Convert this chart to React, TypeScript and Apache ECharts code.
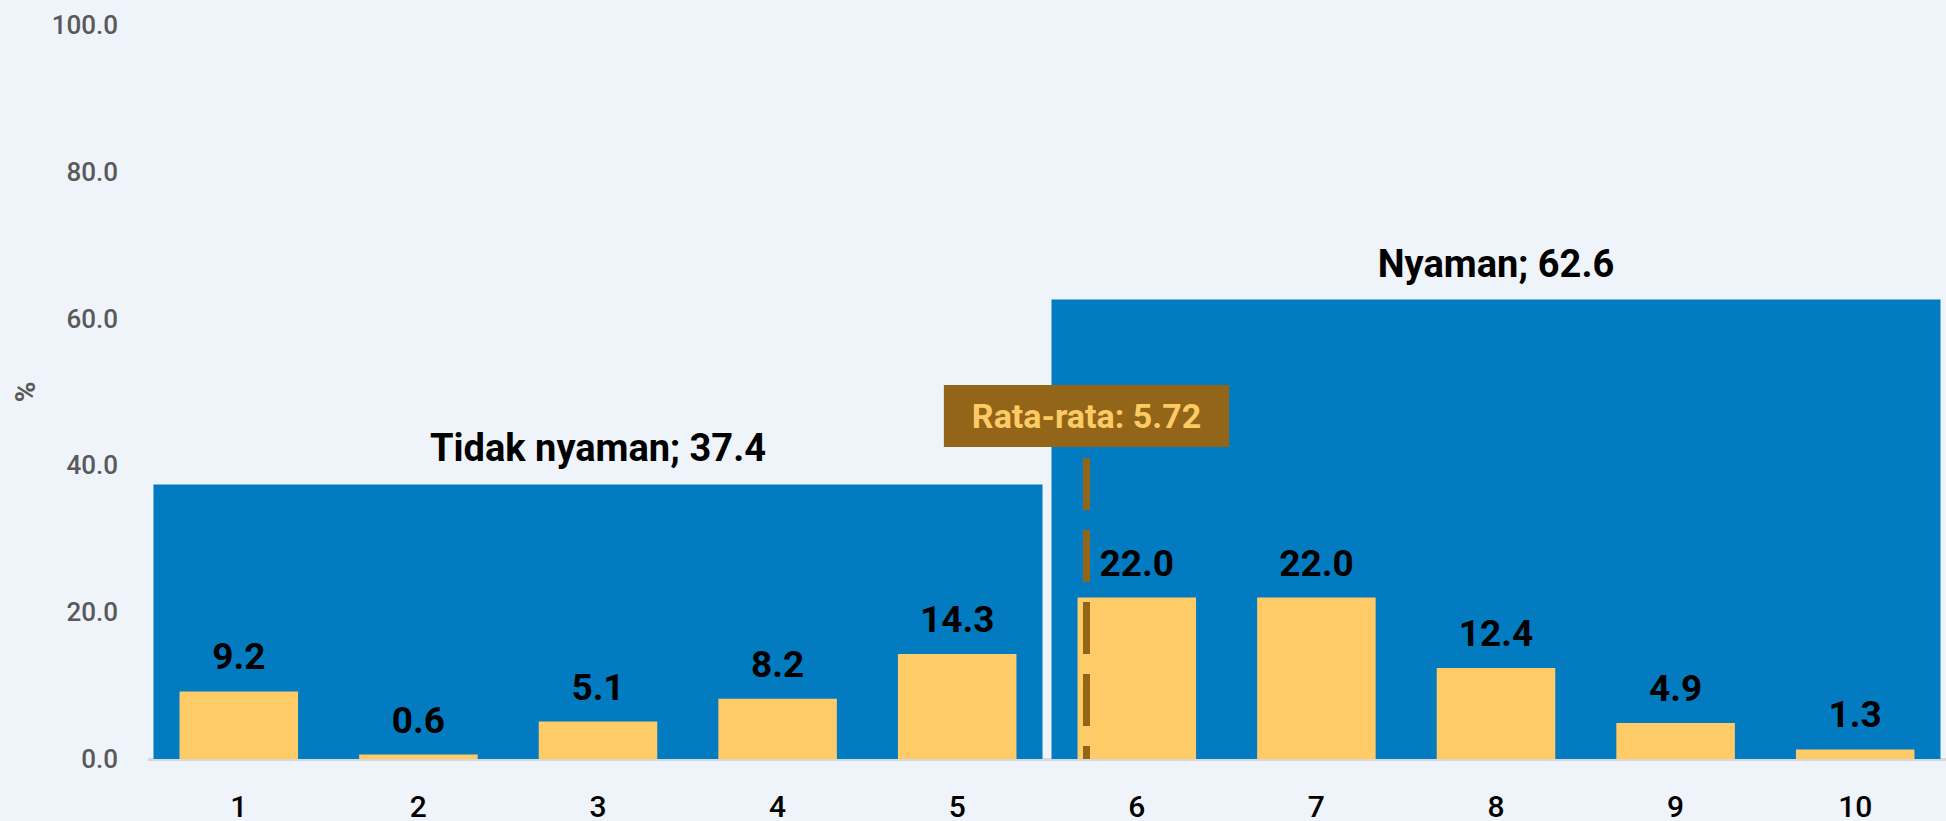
import React, { useEffect, useRef } from "react";
import * as echarts from "echarts";

const categories = ["1", "2", "3", "4", "5", "6", "7", "8", "9", "10"];
const values = [9.2, 0.6, 5.1, 8.2, 14.3, 22.0, 22.0, 12.4, 4.9, 1.3];
const groupNames = ["Tidak nyaman", "Nyaman"];
const groupValues = [37.4, 62.6];
const averageValue = 5.72;
const averageLineTop = 41;
const yTicks = { min: 0, max: 100, interval: 20 };

const FONT = "Roboto, 'Noto Sans', sans-serif";

export default function App() {
  const ref = useRef<HTMLDivElement>(null);
  useEffect(() => {
    if (!ref.current) return;
    const chart = echarts.init(ref.current, null, { renderer: "svg" });
    chart.setOption({
      animation: false,
      backgroundColor: "#EFF3FA",
      textStyle: { fontFamily: FONT },
      grid: { left: 149, right: 1, top: 25, bottom: 61, containLabel: false },
      xAxis: [
        {
          type: "category",
          data: categories,
          axisLine: { show: true, lineStyle: { color: "#D5D8DE", width: 3 } },
          axisTick: { show: false },
          axisLabel: { color: "#000", fontSize: 30, fontWeight: 500, margin: 32, fontFamily: FONT },
          splitLine: { show: false },
        },
        {
          type: "category",
          data: groupNames,
          show: false,
        },
        {
          type: "value",
          min: 0.5,
          max: 10.5,
          show: false,
        },
      ],
      yAxis: {
        type: "value",
        min: yTicks.min,
        max: yTicks.max,
        interval: yTicks.interval,
        name: "%",
        nameLocation: "middle",
        nameGap: 110,
        nameRotate: 90,
        nameTextStyle: { color: "#595959", fontSize: 28, fontWeight: "bold", fontFamily: FONT },
        axisLine: { show: false },
        axisTick: { show: false },
        splitLine: { show: false },
        axisLabel: {
          color: "#595959",
          fontSize: 26,
          fontWeight: 500,
          margin: 31,
          fontFamily: FONT,
          formatter: (v: number) => v.toFixed(1),
        },
      },
      series: [
        {
          type: "bar",
          xAxisIndex: 1,
          data: groupValues,
          barWidth: "99%",
          itemStyle: { color: "#037BC0" },
          label: {
            show: true,
            position: "top",
            distance: 17,
            color: "#000",
            fontSize: 38,
            fontWeight: "bold",
            fontFamily: FONT,
            formatter: (p: any) => `${p.name}; ${Number(p.value).toFixed(1)}`,
          },
          z: 1,
        },
        {
          type: "bar",
          xAxisIndex: 0,
          data: values,
          barWidth: "66%",
          itemStyle: { color: "#FECB67" },
          label: {
            show: true,
            position: "top",
            distance: 16,
            color: "#000",
            fontSize: 37,
            fontWeight: "bold",
            fontFamily: FONT,
            formatter: (p: any) => Number(p.value).toFixed(1),
          },
          z: 2,
        },
        {
          type: "line",
          xAxisIndex: 2,
          data: [],
          z: 3,
          markLine: {
            silent: true,
            symbol: ["none", "none"],
            lineStyle: { color: "#926518", width: 7, type: [52, 20] },
            label: {
              show: true,
              position: "start",
              distance: 11,
              formatter: `Rata-rata: ${averageValue.toFixed(2)}`,
              backgroundColor: "#926518",
              color: "#FDCB65",
              fontSize: 34,
              fontWeight: "bold",
              fontFamily: FONT,
              padding: [14, 28, 14, 28],
            },
            data: [
              [
                { coord: [averageValue, averageLineTop] },
                { coord: [averageValue, 0] },
              ],
            ],
          },
        },
      ],
    });
    return () => chart.dispose();
  }, []);
  return (
    <div
      ref={ref}
      style={{ position: "fixed", left: 0, top: 0, width: 1946, height: 821 }}
    />
  );
}
